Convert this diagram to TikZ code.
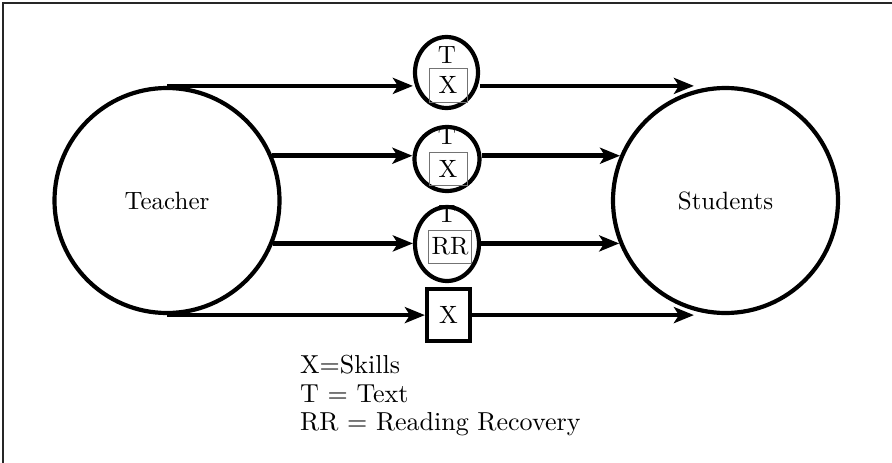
\documentclass[tikz,border=0pt]{standalone}
\usepackage{fontspec}
\setmainfont{lmroman10-regular}[Extension=.otf]
\usetikzlibrary{shapes.geometric,arrows.meta}
\begin{document}
\begin{tikzpicture}[x=1pt,y=-1pt,
  flow/.style={line width=4.5pt,-{Stealth[length=20pt,width=16pt,inset=5pt]}},
  party/.style={circle,draw,line width=4.2pt,minimum size=225pt,inner sep=0pt,
    font=\fontsize{25}{28}\selectfont},
  hub/.style={ellipse,draw,line width=4.2pt,inner sep=0pt},
  lbl/.style={inner sep=0pt,font=\fontsize{25}{28}\selectfont},
  tag/.style={draw=black!55,line width=1pt,inner sep=0pt,font=\fontsize{25}{28}\selectfont},
  skillbox/.style={draw,line width=4.2pt,inner sep=0pt,minimum width=43pt,minimum height=52pt,
    font=\fontsize{25}{28}\selectfont},
  legend/.style={inner sep=0pt,anchor=base west,font=\fontsize{26}{29}\selectfont}]
\useasboundingbox (0,0) rectangle (892,463);

% frame
\draw[black!85,line width=1.3pt] (3,463) -- (3,3) -- (892,3);

% the two parties
\node[party] (teacher) at (167,200.5) {Teacher};
\node[party] (students) at (725.5,200.5) {Students};

% middle channels
\node[hub,minimum width=63pt,minimum height=71pt] (e1) at (446.5,72.5) {};
\node[lbl] (t1) at (447,55) {T};
\node[tag,minimum width=38pt,minimum height=34pt] (x1) at (448,85) {X};

\node[hub,minimum width=65pt,minimum height=64pt] (e2) at (447,159) {};
\node[lbl] (t2) at (447,136.5) {T};
\node[tag,minimum width=38pt,minimum height=33pt] (x2) at (448,168.5) {X};

\node[hub,minimum width=64pt,minimum height=74pt] (e3) at (447,244) {};
\node[lbl] (t3) at (447,214) {T};
\node[tag,minimum width=43pt,minimum height=33pt] (r3) at (450,246.5) {RR};

\node[skillbox] (sq) at (448.5,315) {X};

% connectors
\draw[flow] (teacher.north) -- (e1.west |- teacher.north);
\draw[flow] (e1.east |- teacher.north) -- (students.106 |- teacher.north);

\draw[flow] (teacher.23) -- (e2.west |- teacher.23);
\draw[flow] (e2.east |- teacher.23) -- (students.157 |- teacher.23);

\draw[flow] (teacher.-22) -- (e3.west |- teacher.-22);
\draw[flow] (e3.east |- teacher.-22) -- (students.-158 |- teacher.-22);

\draw[flow] (teacher.south) -- (sq.west |- teacher.south);
\draw[flow] (sq.east |- teacher.south) -- (students.-106 |- teacher.south);

% legend
\node[legend] (leg1) at (300,373) {X=Skills};
\node[legend] (leg2) at (300,402) {T = Text};
\node[legend] (leg3) at (300,430.5) {RR = Reading Recovery};
\end{tikzpicture}
\end{document}
